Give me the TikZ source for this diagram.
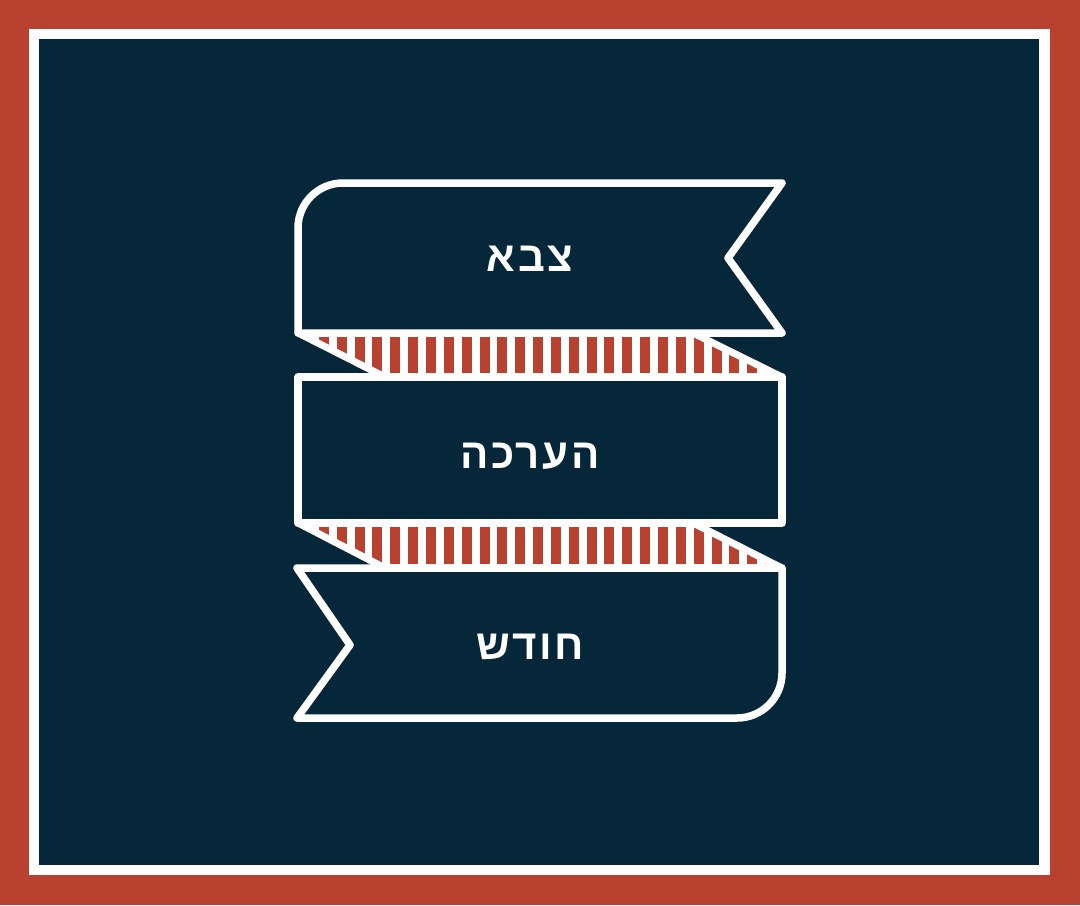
\documentclass[tikz,border=0pt]{standalone}
\usepackage{fontspec}
\usepackage{xcolor}
\usepackage{tikz}
\newfontfamily\hebfont[Script=Hebrew, LetterSpace=6, BoldFont={Liberation Sans Bold}]{Liberation Sans}
\TeXXeTstate=1
\definecolor{brick}{HTML}{B9412F}
\definecolor{navy}{HTML}{06263A}
\tikzset{
  band/.style={draw=white, line width=3.75pt, line join=round},
  fold/.style={draw=white, line width=3.5pt, line join=round},
  bandtext/.style={text=white, font=\hebfont\bfseries\fontsize{21}{21}\selectfont}
}
\begin{document}
\begin{tikzpicture}[x=0.5pt,y=-0.5pt]
            \useasboundingbox (0,0) rectangle (1080,905);
            \fill [brick] (0,0) rectangle (1080,905);
            \fill [white] (29,29) rectangle (1050,875);
            \fill [navy] (39,39) rectangle (1039,865);
            % the two folds behind the bands
            \foreach \y/\h in {333/44, 523/45} {
                \begin{scope}
                    \clip (298,\y) -- (693,\y) -- (782,\y+\h) -- (385,\y+\h) -- cycle;
                    \fill [white] (290,\y) rectangle (790,\y+\h);
                    \foreach \i in {0,...,27}
                        \fill [brick] ({301+17.85*\i},\y+4) rectangle +(10,\h-8);
                \end{scope}
                \draw [fold] (298,\y) -- (693,\y) -- (782,\y+\h) -- (385,\y+\h) -- cycle;
            }
            % the three bands
            \draw [band, fill=navy] (298,333) [rounded corners=22.5pt] -- (298,183) [sharp corners] -- (782,183) -- (728,258) -- (782,333) -- cycle;
            \draw [band, fill=navy] (298,377) rectangle (782,523);
            \draw [band, fill=navy] (297,568) -- (782,568) [rounded corners=22.5pt] -- (782,718) [sharp corners] -- (297,718) -- (350,645) -- cycle;
            \node [bandtext] (army) at (530,259) {\beginR צבא\endR};
            \node [bandtext] (rating) at (530,456) {\beginR הערכה\endR};
            \node [bandtext] (month) at (530,647) {\beginR חודש\endR};
        \end{tikzpicture}
\end{document}
